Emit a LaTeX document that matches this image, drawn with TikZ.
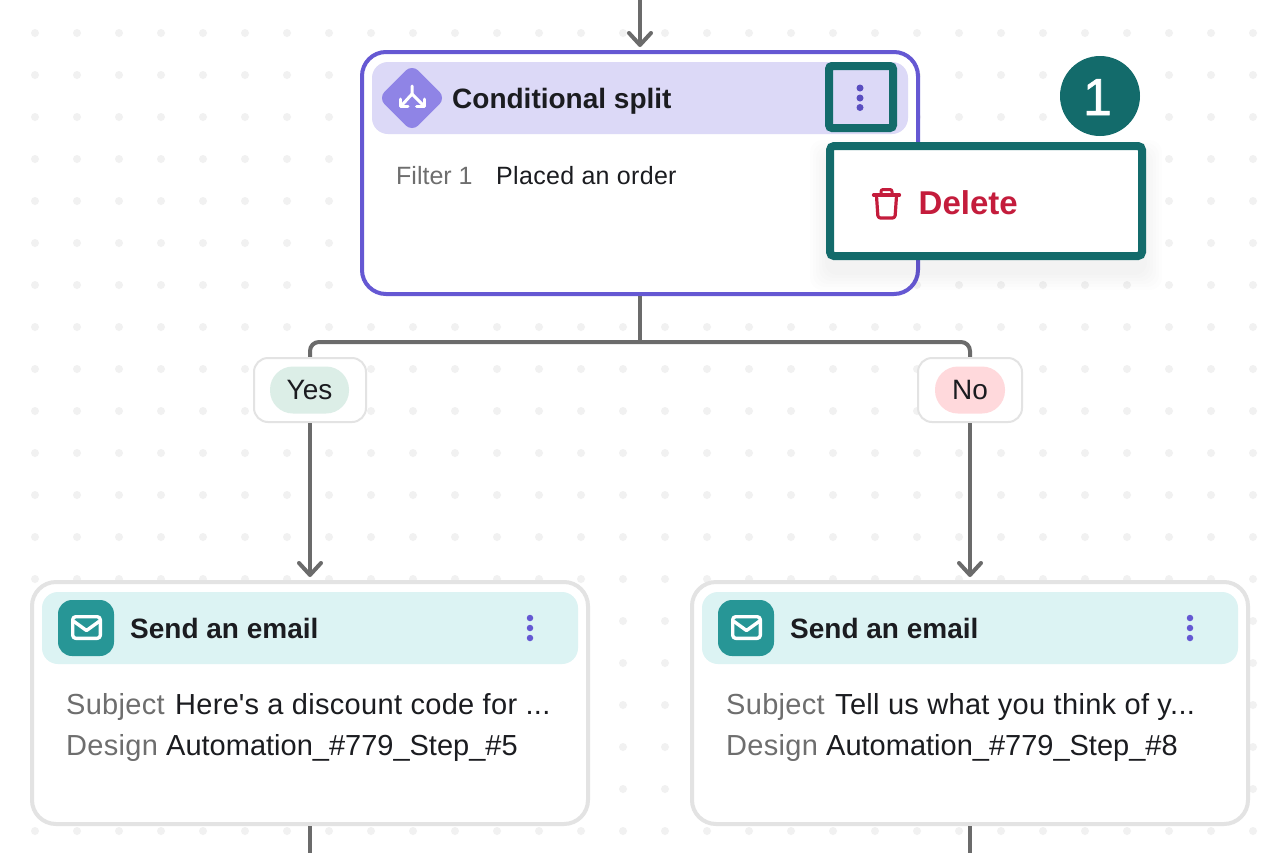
\documentclass[tikz,border=0pt]{standalone}
\usepackage{fontspec}
\setmainfont{Liberation Sans}
\usetikzlibrary{arrows.meta}
\definecolor{purp}{HTML}{6558D3}
\definecolor{purpdark}{HTML}{5A4EC0}
\definecolor{purphead}{HTML}{DCD9F7}
\definecolor{purpicon}{HTML}{8F84E6}
\definecolor{tealdark}{HTML}{136B6B}
\definecolor{tealicon}{HTML}{279696}
\definecolor{tealhead}{HTML}{DCF3F3}
\definecolor{linegray}{HTML}{6B6B6B}
\definecolor{bordergray}{HTML}{E3E3E3}
\definecolor{dotgray}{HTML}{F1F1F1}
\definecolor{ink}{HTML}{1B1C20}
\definecolor{muted}{HTML}{6E6E6E}
\definecolor{redtxt}{HTML}{C41C3C}
\definecolor{yespill}{HTML}{DCEEE7}
\definecolor{nopill}{HTML}{FFD9DC}
\newcommand{\fsz}[1]{\fontsize{#1}{#1}\selectfont}
\newcommand{\spaced}[1]{\addfontfeatures{LetterSpace=#1}}
\tikzset{
  x=1pt,y=-1pt,
  card/.style={draw=bordergray,line width=4pt,fill=white,rounded corners=24pt,minimum width=556pt,minimum height=242pt,inner sep=0pt},
  cardhead/.style={rounded corners=16pt,minimum width=536pt,minimum height=72pt,inner sep=0pt},
  conn/.style={draw=linegray,line width=4pt},
  arr/.style={conn,-{Straight Barb[length=12pt,width=22pt,line width=4pt,round]}},
  labelbox/.style={draw=bordergray,line width=2pt,fill=white,rounded corners=14pt,minimum height=64pt,inner sep=0pt},
  pill/.style={rounded corners=23pt,minimum height=47pt,inner sep=0pt},
  title/.style={anchor=base west,inner sep=0pt,text=ink,font=\fsz{28}\bfseries},
  body/.style={anchor=base west,inner sep=0pt,text=ink,font=\fsz{29}\spaced{1.1}},
  bodyb/.style={anchor=base west,inner sep=0pt,text=ink,font=\fsz{29}},
  dim/.style={anchor=base west,inner sep=0pt,text=muted,font=\fsz{29}\spaced{1}},
  hl/.style={draw=tealdark,line width=8pt,rounded corners=3pt,inner sep=0pt},
  menudot/.style={fill=purp,circle,minimum size=6.5pt,inner sep=0pt},
  iconsq/.style={fill=tealicon,rounded corners=14pt,minimum size=56pt,inner sep=0pt},
  iconline/.style={draw=white,line width=3.4pt,line cap=round,line join=round},
  splitline/.style={draw=white,line width=3pt,line cap=round,line join=round},
  trash/.style={draw=redtxt,line width=3.2pt,line cap=round,line join=round},
}
\begin{document}
\begin{tikzpicture}
\useasboundingbox (0,0) rectangle (1286,852);
\fill[white] (0,0) rectangle (1286,852);
% dotted canvas
\foreach \i in {0,...,29}{\foreach \j in {0,...,19}{
  \fill[dotgray] (35+42*\i,33+42*\j) circle[radius=4];}}

% nodes
\coordinate (top) at (640,-2);
\coordinate (split) at (640,342);
\coordinate (endL) at (310,854);
\coordinate (endR) at (970,854);

\node[card,draw=purp] (cs) at (640,173) {};
\node[cardhead,fill=purphead] (cshead) at (640,98) {};

\node[card] (mailL) at (310,703) {};
\node[cardhead,fill=tealhead] (headL) at (310,628) {};
\node[card] (mailR) at (970,703) {};
\node[cardhead,fill=tealhead] (headR) at (970,628) {};

% connectors
\draw[arr,shorten >=3pt] (top) -- (cs.north);
\draw[conn] (cs.south) -- (split);
\coordinate (yesup) at (310,358);
\coordinate (noup) at (970,358);
\draw[conn,rounded corners=9pt] (yesup) |- (split) -| (noup);

\node[labelbox,minimum width=112pt] (yes) at (310,390) {};
\node[labelbox,minimum width=104pt] (no) at (970,390) {};
\node[pill,fill=yespill,minimum width=79pt,font=\fsz{28},text=ink] (yespilln) at (309.5,390) {Yes};
\node[pill,fill=nopill,minimum width=70pt,font=\fsz{28},text=ink] (nopilln) at (970,390) {No};

\draw[arr,shorten >=3pt] (yes.south) -- (mailL.north);
\draw[arr,shorten >=3pt] (no.south) -- (mailR.north);
\draw[conn] (mailL.south) -- (endL);
\draw[conn] (mailR.south) -- (endR);

% conditional split header
\node[rotate=45,fill=purpicon,rounded corners=9pt,minimum size=47.7pt,inner sep=0pt] (diam) at (412,98) {};
\draw[splitline] (412,86) -- (412,94) -- (402,105);
\draw[splitline] (412,94) -- (423,105);
\draw[splitline] (400.5,99) -- (400.5,106) -- (408,106);
\draw[splitline] (424,99) -- (424,106) -- (416.5,106);
\node[title] (cstitle) at (452,108) {Conditional split};
\node[anchor=base west,inner sep=0pt,text=muted,font=\fsz{25}] (filt) at (396,184) {Filter 1};
\node[anchor=base west,inner sep=0pt,text=ink,font=\fsz{25}\spaced{1.3}] (placed) at (496,184) {Placed an order};

% highlighted kebab
\node[hl,minimum width=64pt,minimum height=62pt] (kebabhl) at (861,97) {};
\node[menudot,fill=purpdark,minimum size=7pt] (k1) at (860,88) {};
\node[menudot,fill=purpdark,minimum size=7pt] (k2) at (860,98) {};
\node[menudot,fill=purpdark,minimum size=7pt] (k3) at (860,107.5) {};

% email cards
\foreach \dx/\nm/\subj/\des in {0/L/{Here\textquotesingle s a discount code for ...}/{Automation\_\#779\_Step\_\#5},660/R/{Tell us what you think of y...}/{Automation\_\#779\_Step\_\#8}}{
  \node[iconsq] (icon\nm) at (86+\dx,628) {};
  \draw[iconline,rounded corners=3pt] (72.7+\dx,616.7) rectangle (100.3+\dx,638.3);
  \draw[iconline] (74+\dx,621.5) -- (86.5+\dx,630.5) -- (99+\dx,621.5);
  \node[title] (title\nm) at (130+\dx,638) {Send an email};
  \node[menudot] (a\nm) at (530+\dx,618) {};
  \node[menudot] (b\nm) at (530+\dx,628) {};
  \node[menudot] (c\nm) at (530+\dx,638) {};
  \node[dim] (slab\nm) at (66+\dx,714) {Subject};
  \node[body] (subj\nm) at (175+\dx,714) {\subj};
  \node[dim] (dlab\nm) at (66+\dx,755) {Design};
  \node[bodyb] (des\nm) at (166+\dx,755) {\des};
}

% popup shadow
\foreach \g in {20,17,14,11,8,5}{
  \fill[black,opacity=0.009,rounded corners=12pt] (830-\g,146-\g+14) rectangle (1142+\g,256+\g+14);}
\node[hl,fill=white,minimum width=312pt,minimum height=110pt,rounded corners=4pt] (popup) at (986,201) {};
\draw[trash,rounded corners=2.5pt] (876.5,196) -- (878,218) -- (895,218) -- (896.5,196);
\draw[trash] (873.5,195) -- (899.5,195);
\draw[trash,line width=3pt,rounded corners=2pt] (881,194) -- (881,189.5) -- (892,189.5) -- (892,194);
\node[anchor=base west,inner sep=0pt,text=redtxt,font=\fsz{33}\bfseries] (del) at (918.5,214) {Delete};

% badge
\node[circle,fill=tealdark,minimum size=80pt,inner sep=0pt] (badge) at (1100,96) {};
\node[anchor=base,inner sep=0pt,text=white,font=\fsz{52}\addfontfeatures{FakeBold=1.2}] (badgenum) at (1097.5,115) {1};
\end{tikzpicture}
\end{document}
